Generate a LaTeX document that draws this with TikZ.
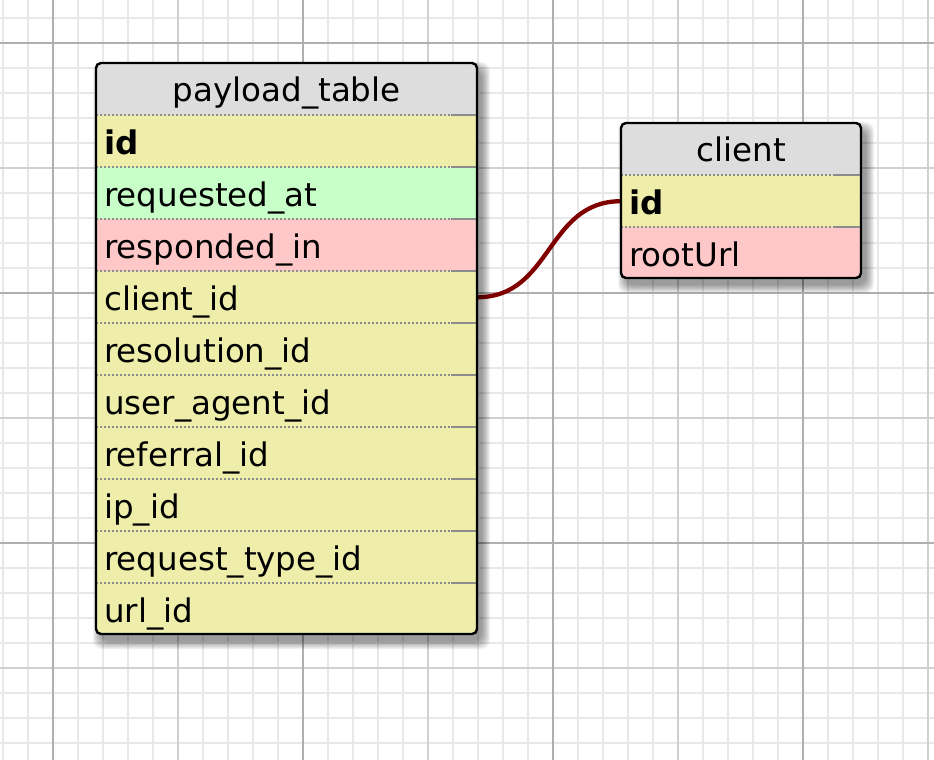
\documentclass[tikz,border=0pt]{standalone}
\usepackage{fontspec}
\setmainfont{DejaVu Sans}
\usetikzlibrary{calc}
\definecolor{hdr}{RGB}{221,221,221}
\definecolor{yel}{RGB}{238,238,170}
\definecolor{grn}{RGB}{200,255,200}
\definecolor{pnk}{RGB}{255,200,200}
\definecolor{rel}{RGB}{128,0,0}
\definecolor{gminor}{RGB}{232,232,232}
\definecolor{gmid}{RGB}{208,208,208}
\definecolor{gmajor}{RGB}{175,175,175}
\definecolor{sepc}{RGB}{140,140,140}
\newcommand{\tabfont}{\fontsize{32.5}{38}\selectfont}
\pgfdeclarelayer{gridlayer}
\pgfdeclarelayer{rellayer}
\pgfdeclarelayer{shadowlayer}
\pgfsetlayers{gridlayer,rellayer,shadowlayer,main}
\begin{document}
\begin{tikzpicture}[x=1pt,y=-1pt,
  rowbox/.style={anchor=north west, inner xsep=8pt, inner ysep=0pt,
    minimum height=52pt, text height=27pt, text depth=1pt, align=left,
    font=\tabfont, text=black},
  hdrbox/.style={anchor=north west, inner xsep=0pt, inner ysep=0pt,
    minimum height=52pt, text height=26pt, text depth=1pt, align=center,
    font=\tabfont, text=black, fill=hdr},
  sepdot/.style={draw=sepc, line width=1.5pt, dash pattern=on 1.6pt off 2.4pt},
  sepsolid/.style={draw=sepc, line width=1.5pt},
  border/.style={draw=black, line width=2.4pt, rounded corners=5pt},
  relline/.style={draw=rel, line width=4.3pt},
  minorline/.style={draw=gminor, line width=1.8pt},
  midline/.style={draw=gmid, line width=2pt},
  majorline/.style={draw=gmajor, line width=2pt}
]
\useasboundingbox (0,0) rectangle (934,760);
\begin{pgfonlayer}{gridlayer}
\fill[white] (0,0) rectangle (934,760);
\begin{scope}
\clip (0,0) rectangle (934,760);
\foreach \x in {3,28,...,933} \draw[minorline] (\x,0) -- (\x,760);
\foreach \y in {18,43,...,760} \draw[minorline] (0,\y) -- (934,\y);
\foreach \x in {178,428,678,928} \draw[midline] (\x,0) -- (\x,760);
\foreach \y in {168,418,668} \draw[midline] (0,\y) -- (934,\y);
\foreach \x in {53,303,553,803} \draw[majorline] (\x,0) -- (\x,760);
\foreach \y in {43,293,543} \draw[majorline] (0,\y) -- (934,\y);
\end{scope}
\end{pgfonlayer}

% shadows
\begin{pgfonlayer}{shadowlayer}
\foreach \b in {8,7,...,0} {
  \fill[black, opacity=0.05, rounded corners=9pt] (96+5-\b,63+7-\b) rectangle (477+5+\b,634+7+\b);
  \fill[black, opacity=0.05, rounded corners=9pt] (621+5-\b,123+7-\b) rectangle (861+5+\b,278+7+\b);
}
\end{pgfonlayer}

% payload_table
\begin{scope}
\clip[rounded corners=5pt] (96,63) rectangle (477,634);
\node[hdrbox, text width=381pt] (ph) at (96,63) {payload\_table};
\node[rowbox, text width=365pt, fill=yel] (p1) at (96,115) {\textbf{id}};
\node[rowbox, text width=365pt, fill=grn] (p2) at (96,167) {requested\_at};
\node[rowbox, text width=365pt, fill=pnk] (p3) at (96,219) {responded\_in};
\node[rowbox, text width=365pt, fill=yel] (p4) at (96,271) {client\_id};
\node[rowbox, text width=365pt, fill=yel] (p5) at (96,323) {resolution\_id};
\node[rowbox, text width=365pt, fill=yel] (p6) at (96,375) {user\_agent\_id};
\node[rowbox, text width=365pt, fill=yel] (p7) at (96,427) {referral\_id};
\node[rowbox, text width=365pt, fill=yel] (p8) at (96,479) {ip\_id};
\node[rowbox, text width=365pt, fill=yel] (p9) at (96,531) {request\_type\_id};
\node[rowbox, text width=365pt, fill=yel] (p10) at (96,583) {url\_id};
\end{scope}
\foreach \n in {p1,p2,p3,p4,p5,p6,p7,p8,p9,p10} {
  \draw[sepdot] (\n.north west) -- ($(\n.north east)+(-26,0)$);
  \draw[sepsolid] ($(\n.north east)+(-26,0)$) -- (\n.north east);
}
\draw[border] (96,63) rectangle (477,634);

% client
\begin{scope}
\clip[rounded corners=5pt] (621,123) rectangle (861,278);
\node[hdrbox, text width=240pt] (ch) at (621,123) {client};
\node[rowbox, text width=224pt, fill=yel] (c1) at (621,175) {\textbf{id}};
\node[rowbox, text width=224pt, fill=pnk] (c2) at (621,227) {rootUrl};
\end{scope}
\foreach \n in {c1,c2} {
  \draw[sepdot] (\n.north west) -- ($(\n.north east)+(-28,0)$);
  \draw[sepsolid] ($(\n.north east)+(-28,0)$) -- (\n.north east);
}
\draw[border] (621,123) rectangle (861,278);

% relation
\begin{pgfonlayer}{rellayer}
\draw[relline] (p4.east) .. controls +(75,0) and +(-75,0) .. (c1.west);
\end{pgfonlayer}
\end{tikzpicture}
\end{document}
